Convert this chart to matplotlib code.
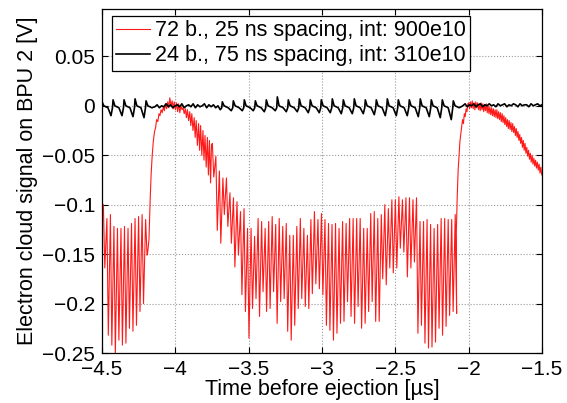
import matplotlib
matplotlib.use('Agg')
import matplotlib.pyplot as plt
import numpy as np

# BPU 2 电子云信号：两种束流填充方式的比较
plt.rcParams['font.family'] = ['Liberation Sans', 'DejaVu Sans']
plt.rcParams['axes.unicode_minus'] = True

# 束团间隔 [µs]
RED_DT = 0.024
BLACK_DT = 0.075

# --- 72 b., 25 ns：每个束团的上沿和尖峰下沿 [V] ---
red_train1_t0 = -4.491
red_train1_high = [-0.100, -0.114, -0.110, -0.122, -0.124, -0.124, -0.122,
                   -0.124, -0.119, -0.114, -0.112, -0.110, -0.115]
red_train1_low = [-0.164, -0.232, -0.242, -0.251, -0.237, -0.242, -0.240,
                  -0.225, -0.228, -0.222, -0.208, -0.200, -0.151]

# 两个束团串之间的间隙
red_gap_t = [-4.190, -4.180, -4.172, -4.165, -4.158, -4.150, -4.142, -4.135,
             -4.128, -4.120, -4.112, -4.105, -4.098, -4.090, -4.082, -4.075,
             -4.068, -4.060, -4.052, -4.045, -4.038, -4.030, -4.022, -4.015,
             -4.008, -4.000, -3.992, -3.985, -3.978, -3.970, -3.962, -3.955,
             -3.948, -3.940, -3.932, -3.925, -3.918, -3.910, -3.902, -3.895,
             -3.888, -3.880, -3.872, -3.865, -3.858, -3.850, -3.842, -3.835,
             -3.828, -3.820, -3.812, -3.805, -3.798, -3.790, -3.782, -3.775,
             -3.768, -3.760, -3.754]
red_gap_v = [-0.150, -0.135, -0.095, -0.068, -0.050, -0.035, -0.026, -0.022,
             -0.014, -0.016, -0.008, -0.010, -0.004, -0.007, -0.001, -0.005,
             0.002, -0.003, 0.004, -0.002, 0.008, 0.000, 0.005, -0.003,
             0.004, -0.004, 0.003, -0.006, 0.002, -0.007, 0.000, -0.004,
             -0.002, -0.008, -0.003, -0.012, -0.004, -0.015, -0.006, -0.020,
             -0.008, -0.025, -0.012, -0.032, -0.015, -0.040, -0.018, -0.045,
             -0.020, -0.050, -0.025, -0.055, -0.030, -0.062, -0.032, -0.070,
             -0.035, -0.078, -0.040]

red_train2_t0 = -3.748
red_train2_high = [-0.038, -0.051, -0.066, -0.073, -0.073, -0.088, -0.093,
                   -0.097, -0.107, -0.104, -0.124, -0.124, -0.132, -0.114,
                   -0.117, -0.124, -0.117, -0.112, -0.120, -0.114, -0.122,
                   -0.119, -0.131, -0.131, -0.122, -0.114, -0.124, -0.131,
                   -0.115, -0.107, -0.115, -0.109, -0.115, -0.119, -0.120,
                   -0.119, -0.124, -0.117, -0.119, -0.114, -0.114, -0.114,
                   -0.114, -0.124, -0.124, -0.109, -0.107, -0.114, -0.110,
                   -0.100, -0.104, -0.095, -0.095, -0.092, -0.095, -0.093,
                   -0.093, -0.095, -0.093, -0.117, -0.117, -0.115, -0.120,
                   -0.124, -0.120, -0.114, -0.114, -0.115, -0.115, -0.110]
red_train2_low = [-0.072, -0.126, -0.139, -0.110, -0.122, -0.139, -0.163,
                  -0.151, -0.191, -0.208, -0.235, -0.205, -0.195, -0.213,
                  -0.188, -0.208, -0.205, -0.188, -0.220, -0.198, -0.195,
                  -0.228, -0.237, -0.222, -0.205, -0.195, -0.203, -0.205,
                  -0.190, -0.180, -0.185, -0.191, -0.222, -0.227, -0.237,
                  -0.230, -0.220, -0.218, -0.198, -0.213, -0.220, -0.203,
                  -0.225, -0.220, -0.208, -0.198, -0.218, -0.218, -0.175,
                  -0.181, -0.164, -0.169, -0.164, -0.144, -0.148, -0.173,
                  -0.164, -0.158, -0.230, -0.222, -0.240, -0.245, -0.244,
                  -0.239, -0.225, -0.232, -0.223, -0.212, -0.208, -0.210]

red_tail_t = [-2.085, -2.078, -2.072, -2.066, -2.060, -2.054, -2.048, -2.042,
              -2.036, -2.030, -2.024, -2.018, -2.012, -2.006,
              -2.000, -1.994, -1.988, -1.982, -1.976, -1.970, -1.964, -1.958,
              -1.952, -1.946, -1.940, -1.934, -1.928, -1.922, -1.916, -1.910,
              -1.904, -1.898, -1.892, -1.886, -1.880, -1.874, -1.868, -1.862,
              -1.856, -1.850, -1.844, -1.838, -1.832, -1.826, -1.820, -1.814,
              -1.808, -1.802, -1.796, -1.790, -1.784, -1.778, -1.772, -1.766,
              -1.760, -1.754, -1.748, -1.742, -1.736, -1.730, -1.724, -1.718,
              -1.712, -1.706, -1.700, -1.694, -1.688, -1.682, -1.676, -1.670,
              -1.664, -1.658, -1.652, -1.646, -1.640, -1.634, -1.628, -1.622,
              -1.616, -1.610, -1.604, -1.598, -1.592, -1.586, -1.580, -1.574,
              -1.568, -1.562, -1.556, -1.550, -1.544, -1.538, -1.532, -1.526,
              -1.520, -1.514, -1.508, -1.502]
red_tail_v = [-0.130, -0.090, -0.065, -0.050, -0.036, -0.028, -0.021, -0.014,
              -0.018, -0.008, -0.011, -0.003, -0.006, 0.002,
              0.003, -0.003, 0.004, -0.002, 0.005, -0.003, 0.003, -0.004,
              0.004, -0.002, 0.003, -0.004, 0.002, -0.005, 0.003, -0.004,
              0.002, -0.006, 0.001, -0.005, 0.002, -0.007, 0.000, -0.008,
              -0.001, -0.009, -0.002, -0.010, -0.003, -0.011, -0.004, -0.012,
              -0.004, -0.013, -0.006, -0.014, -0.007, -0.016, -0.008, -0.017,
              -0.010, -0.019, -0.012, -0.021, -0.014, -0.023, -0.015, -0.024,
              -0.017, -0.026, -0.018, -0.027, -0.021, -0.030, -0.023, -0.032,
              -0.026, -0.035, -0.029, -0.038, -0.032, -0.042, -0.035, -0.045,
              -0.038, -0.048, -0.042, -0.051, -0.045, -0.054, -0.048, -0.057,
              -0.050, -0.059, -0.053, -0.061, -0.055, -0.063, -0.057, -0.065,
              -0.059, -0.068, -0.062, -0.070]

# --- 24 b., 75 ns：每个束团的上冲和下陷 [V] ---
black_train1_t0 = -4.500
black_train1_peak = [0.004, 0.006, 0.006, 0.007, 0.005]
black_train1_dip = [-0.008, -0.010, -0.010, -0.011, -0.012]

black_gap_v = [-0.001, 0.001, -0.002, 0.000, -0.001, 0.002, -0.001, 0.001,
               -0.002, 0.000, 0.001, -0.001, 0.002, -0.002, 0.000, 0.001,
               -0.001, 0.002, -0.002, 0.001, -0.001, 0.000, 0.002, -0.002,
               0.001, -0.001, 0.001, -0.002, 0.000]

black_train2_t0 = -3.680
black_train2_peak = [0.004, 0.005, 0.006, 0.005, 0.006, 0.009, 0.006, 0.007,
                     0.006, 0.006, 0.007, 0.006, 0.007, 0.006, 0.006, 0.007,
                     0.006, 0.006, 0.007, 0.006, 0.006, 0.005]
black_train2_dip = [-0.004, -0.005, -0.005, -0.005, -0.006, -0.005, -0.006,
                    -0.006, -0.007, -0.007, -0.007, -0.008, -0.008, -0.008,
                    -0.009, -0.010, -0.010, -0.010, -0.011, -0.011, -0.012,
                    -0.014]

black_tail_v = [0.000, 0.002, -0.001, 0.001, 0.000, 0.002, -0.001, 0.001,
                0.002, -0.001, 0.001, 0.000, 0.002, 0.000, 0.001, -0.001,
                0.002, 0.000, 0.001, 0.002, -0.001, 0.001, 0.000, 0.002,
                0.001, -0.001, 0.002, 0.000, 0.001, 0.001, -0.001, 0.002,
                0.000, 0.001, 0.002, 0.000, 0.001]


def red_train(t0, high, low):
    t, v = [], []
    for i, (h, l) in enumerate(zip(high, low)):
        ti = t0 + i * RED_DT
        t += [ti, ti + 0.4 * RED_DT]
        v += [h, l]
    return t, v


def black_train(t0, peak, dip):
    t, v = [], []
    for i, (p, d) in enumerate(zip(peak, dip)):
        ti = t0 + i * BLACK_DT
        t += [ti - 0.014, ti - 0.004, ti, ti + 0.012, ti + 0.040]
        v += [d, -0.002, p, 0.000, -0.002]
    return t, v


r1_t, r1_v = red_train(red_train1_t0, red_train1_high, red_train1_low)
r2_t, r2_v = red_train(red_train2_t0, red_train2_high, red_train2_low)
red_t = r1_t + red_gap_t + r2_t + red_tail_t
red_v = r1_v + red_gap_v + r2_v + red_tail_v

b1_t, b1_v = black_train(black_train1_t0, black_train1_peak, black_train1_dip)
b2_t, b2_v = black_train(black_train2_t0, black_train2_peak, black_train2_dip)
bgap_t = list(np.linspace(-4.14, -3.71, len(black_gap_v)))
btail_t = list(np.linspace(-2.04, -1.50, len(black_tail_v)))
black_t = b1_t + bgap_t + b2_t + btail_t
black_v = b1_v + black_gap_v + b2_v + black_tail_v

fig = plt.figure(figsize=(5.67, 4.03), dpi=100)
ax = fig.add_axes([0.180, 0.124, 0.776, 0.854])

ax.plot(red_t, red_v, color='#ff1a1a', lw=0.8,
        label='72 b., 25 ns spacing, int: 900e10')
ax.plot(black_t, black_v, color='black', lw=1.2,
        label='24 b., 75 ns spacing, int: 310e10')

ax.set_xlim(-4.5, -1.5)
ax.set_ylim(-0.25, 0.098)
ax.set_xticks(np.arange(-4.5, -1.49, 0.5))
ax.set_xticklabels(['\u22124.5', '\u22124', '\u22123.5', '\u22123',
                    '\u22122.5', '\u22122', '\u22121.5'])
ax.set_yticks([-0.25, -0.2, -0.15, -0.1, -0.05, 0, 0.05])
ax.set_yticklabels(['\u22120.25', '\u22120.2', '\u22120.15', '\u22120.1',
                    '\u22120.05', '0', '0.05'])
ax.tick_params(direction='in', top=True, right=True, length=4, width=0.8,
               labelsize=15, pad=5)
ax.grid(True, linestyle=':', color='#999999', linewidth=0.8)
for s in ax.spines.values():
    s.set_linewidth(0.9)

ax.set_xlabel('Time before ejection [\u00b5s]', fontsize=15.5, labelpad=0)
ax.set_ylabel('Electron cloud signal on BPU 2 [V]', fontsize=15.5, labelpad=3)

leg = ax.legend(loc='upper left', bbox_to_anchor=(0.022, 0.98),
                borderaxespad=0, fontsize=15.5, handlelength=1.6,
                handletextpad=0.2, labelspacing=0.2, borderpad=0.2,
                fancybox=False, framealpha=1, edgecolor='black')
leg.get_frame().set_linewidth(0.9)

fig.savefig('out.png', dpi=100)
